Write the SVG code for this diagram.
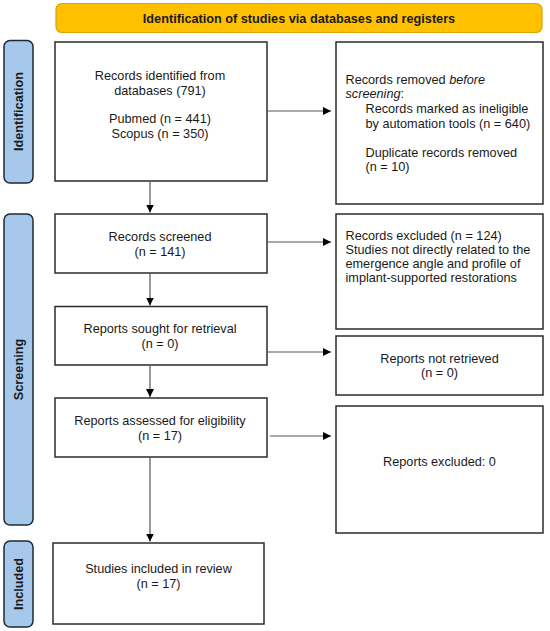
<svg xmlns="http://www.w3.org/2000/svg" width="550" height="631" viewBox="0 0 550 631">
<style>
  .box { fill: #ffffff; stroke: #2b2b2b; stroke-width: 1.5; }
  .side { fill: #a5c8eb; stroke: #1e2a36; stroke-width: 1.5; }
  .banner { fill: #ffc000; stroke: #d9a400; stroke-width: 1.2; }
  text { font-family: "Liberation Sans", Arial, Helvetica, sans-serif; font-size: 12.7px; fill: #1a1a1a; }
  .c { text-anchor: middle; }
  .b { font-weight: bold; }
  .con { stroke: #555555; stroke-width: 1.2; fill: none; }
</style>
<defs>
  <marker id="ah" viewBox="0 0 10 10" refX="10" refY="5" markerWidth="8" markerHeight="8" markerUnits="userSpaceOnUse" orient="auto">
    <path d="M0,0 L10,5 L0,10 z" fill="#000000"/>
  </marker>
</defs>

<g id="banner">
  <rect class="banner" x="56" y="3.5" width="486" height="29" rx="6"/>
  <text class="c b" x="299" y="22.5">Identification of studies via databases and registers</text>
</g>

<g id="side-identification">
  <rect class="side" x="4" y="40.5" width="29" height="142.5" rx="6"/>
  <text class="c b" transform="translate(23,111.5) rotate(-90)">Identification</text>
</g>
<g id="side-screening">
  <rect class="side" x="4" y="214" width="29" height="311" rx="6"/>
  <text class="c b" transform="translate(23,369.5) rotate(-90)">Screening</text>
</g>
<g id="side-included">
  <rect class="side" x="4" y="541" width="29" height="86" rx="6"/>
  <text class="c b" transform="translate(23,584) rotate(-90)">Included</text>
</g>

<g id="records-identified">
  <rect class="box" x="55" y="42" width="212" height="139"/>
  <text class="c" x="160" y="80">Records identified from</text>
  <text class="c" x="160" y="94.5">databases (791)</text>
  <text class="c" x="160" y="123">Pubmed (n = 441)</text>
  <text class="c" x="160" y="137.5">Scopus (n = 350)</text>
</g>

<g id="records-removed">
  <rect class="box" x="336" y="42" width="207" height="162"/>
  <text x="345.5" y="84">Records removed <tspan font-style="italic">before</tspan></text>
  <text x="345.5" y="98"><tspan font-style="italic">screening</tspan>:</text>
  <text x="365.5" y="113">Records marked as ineligible</text>
  <text x="365.5" y="127.5">by automation tools (n = 640)</text>
  <text x="365.5" y="157">Duplicate records removed</text>
  <text x="365.5" y="171">(n = 10)</text>
</g>

<g id="records-screened">
  <rect class="box" x="55" y="214" width="212" height="59"/>
  <text class="c" x="160" y="241">Records screened</text>
  <text class="c" x="160" y="255.5">(n = 141)</text>
</g>

<g id="records-excluded">
  <rect class="box" x="336" y="214" width="207" height="115"/>
  <text x="345.5" y="240">Records excluded (n = 124)</text>
  <text x="345.5" y="254">Studies not directly related to the</text>
  <text x="345.5" y="268">emergence angle and profile of</text>
  <text x="345.5" y="282">implant-supported restorations</text>
</g>

<g id="reports-sought">
  <rect class="box" x="55" y="306.5" width="212" height="58.5"/>
  <text class="c" x="160" y="333">Reports sought for retrieval</text>
  <text class="c" x="160" y="347.5">(n = 0)</text>
</g>

<g id="reports-not-retrieved">
  <rect class="box" x="336" y="336" width="207" height="59"/>
  <text class="c" x="439.5" y="362.5">Reports not retrieved</text>
  <text class="c" x="439.5" y="377">(n = 0)</text>
</g>

<g id="reports-assessed">
  <rect class="box" x="55" y="398" width="212" height="59"/>
  <text class="c" x="160" y="425">Reports assessed for eligibility</text>
  <text class="c" x="160" y="439.5">(n = 17)</text>
</g>

<g id="reports-excluded">
  <rect class="box" x="336" y="406" width="207" height="127"/>
  <text class="c" x="439.5" y="466">Reports excluded: 0</text>
</g>

<g id="studies-included">
  <rect class="box" x="53" y="543" width="211" height="81"/>
  <text class="c" x="158.5" y="573">Studies included in review</text>
  <text class="c" x="158.5" y="588">(n = 17)</text>
</g>

<g id="connectors">
  <line class="con" x1="267" y1="111" x2="331" y2="111" marker-end="url(#ah)"/>
  <line class="con" x1="267" y1="242" x2="331" y2="242" marker-end="url(#ah)"/>
  <line class="con" x1="267" y1="352" x2="331" y2="352" marker-end="url(#ah)"/>
  <line class="con" x1="270" y1="436" x2="331" y2="436" marker-end="url(#ah)"/>
  <line class="con" x1="150" y1="181" x2="150" y2="212.5" marker-end="url(#ah)"/>
  <line class="con" x1="150" y1="273" x2="150" y2="305.5" marker-end="url(#ah)"/>
  <line class="con" x1="150" y1="365" x2="150" y2="397" marker-end="url(#ah)"/>
  <line class="con" x1="150" y1="457" x2="150" y2="541.5" marker-end="url(#ah)"/>
</g>
</svg>
